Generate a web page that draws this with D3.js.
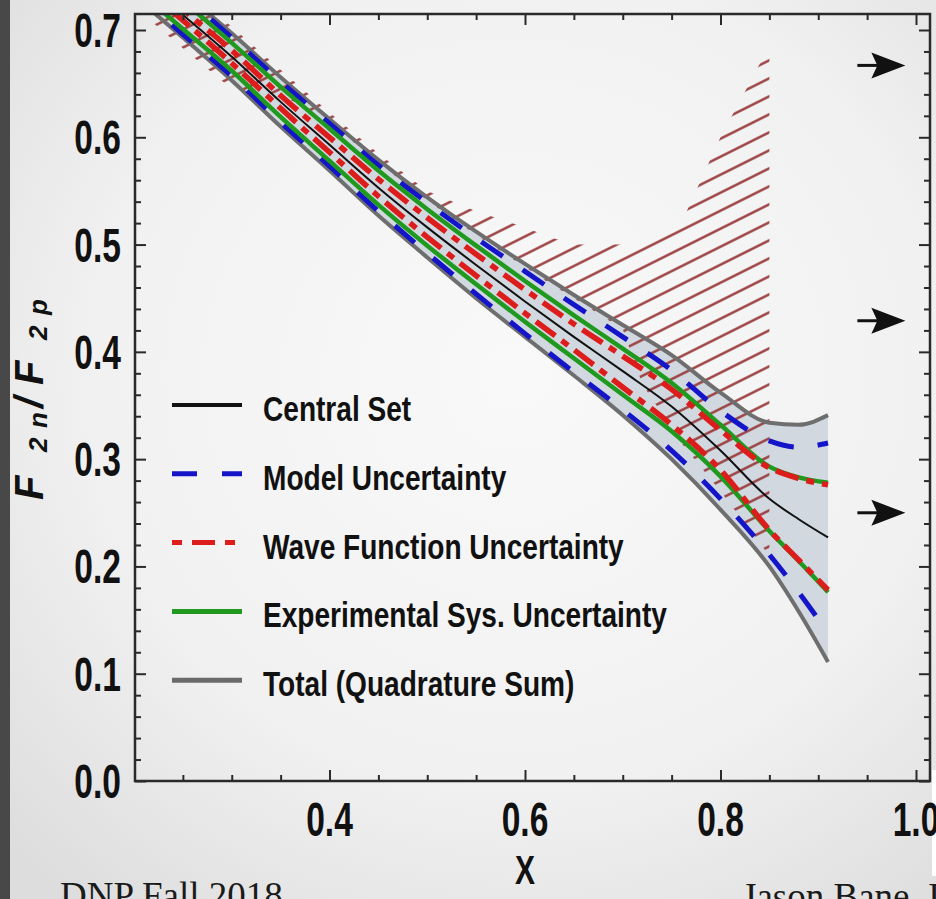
<!DOCTYPE html>
<html>
<head>
<meta charset="utf-8">
<script src="https://cdn.jsdelivr.net/npm/d3@7"></script>
<style>
  html, body { margin: 0; padding: 0; overflow: hidden; background: #e9e9e9; }
</style>
</head>
<body>
<svg id="chart" width="936" height="899"></svg>
<script>
// x grid shared by all the extraction curves
const xGrid    = [0.20, 0.25, 0.30, 0.35, 0.40, 0.45, 0.50, 0.55, 0.60, 0.65, 0.70, 0.75, 0.80, 0.85, 0.88, 0.91]
const central  = [0.752, 0.714, 0.675, 0.633, 0.593, 0.553, 0.516, 0.481, 0.447, 0.414, 0.382, 0.349, 0.308, 0.263, 0.244, 0.227]
const totalUp  = [0.772, 0.735, 0.697, 0.656, 0.617, 0.579, 0.544, 0.512, 0.482, 0.453, 0.425, 0.397, 0.362, 0.334, 0.332, 0.341]
const totalLo  = [0.732, 0.693, 0.653, 0.610, 0.569, 0.527, 0.488, 0.450, 0.414, 0.378, 0.341, 0.300, 0.253, 0.200, 0.158, 0.111]
const modelUp  = [0.769, 0.732, 0.693, 0.652, 0.613, 0.574, 0.539, 0.506, 0.475, 0.444, 0.414, 0.383, 0.345, 0.317, 0.311, 0.315]
const modelLo  = [0.735, 0.696, 0.657, 0.614, 0.573, 0.531, 0.492, 0.454, 0.417, 0.381, 0.346, 0.308, 0.263, 0.211, 0.176, 0.138]
const waveUp   = [0.757, 0.719, 0.681, 0.639, 0.600, 0.561, 0.525, 0.491, 0.458, 0.426, 0.396, 0.365, 0.327, 0.292, 0.282, 0.276]
const waveLo   = [0.747, 0.709, 0.669, 0.627, 0.586, 0.545, 0.507, 0.471, 0.436, 0.402, 0.367, 0.332, 0.290, 0.234, 0.206, 0.178]
const expUp    = [0.764, 0.727, 0.688, 0.647, 0.608, 0.569, 0.533, 0.499, 0.466, 0.434, 0.403, 0.371, 0.332, 0.293, 0.283, 0.278]
const expLo    = [0.740, 0.701, 0.662, 0.619, 0.578, 0.537, 0.499, 0.463, 0.428, 0.394, 0.360, 0.326, 0.284, 0.233, 0.205, 0.176]

// hatched region (other extraction)
const hatchX   = [0.20, 0.25, 0.30, 0.35, 0.40, 0.45, 0.50, 0.55, 0.60, 0.625, 0.65, 0.70, 0.72, 0.76, 0.80, 0.85]
const hatchTop = [0.780, 0.742, 0.703, 0.663, 0.623, 0.585, 0.550, 0.531, 0.516, 0.507, 0.500, 0.500, 0.501, 0.520, 0.600, 0.685]
const hatchBot = [0.722, 0.683, 0.645, 0.640, 0.614, 0.576, 0.541, 0.509, 0.479, 0.464, 0.450, 0.421, 0.370, 0.315, 0.270, 0.210]

// model predictions at x -> 1 (arrows)
const arrowVals = [0.667, 0.429, 0.25]

const xMajor = [0.4, 0.6, 0.8, 1.0]
const yMajor = [0.0, 0.1, 0.2, 0.3, 0.4, 0.5, 0.6, 0.7]

const legendItems = [
  { label: "Central Set", color: "#111", width: 4, dash: null },
  { label: "Model Uncertainty", color: "#1414c8", width: 5, dash: "25,25" },
  { label: "Wave Function Uncertainty", color: "#dd1c1c", width: 5, dash: "10,10,23,10" },
  { label: "Experimental Sys. Uncertainty", color: "#1f9a1f", width: 5, dash: null },
  { label: "Total (Quadrature Sum)", color: "#6a6a6a", width: 5, dash: null }
]

const W = 936, H = 899
const L = 135, R = 930, T = 14, B = 781

const svg = d3.select("#chart")
const defs = svg.append("defs")

const bg = defs.append("radialGradient").attr("id", "bg")
  .attr("cx", "55%").attr("cy", "42%").attr("r", "75%")
bg.append("stop").attr("offset", "0%").attr("stop-color", "#f9f9f9")
bg.append("stop").attr("offset", "60%").attr("stop-color", "#f1f1f1")
bg.append("stop").attr("offset", "100%").attr("stop-color", "#dddddd")

svg.append("rect").attr("width", W).attr("height", H).attr("fill", "url(#bg)")
svg.append("rect").attr("width", 10).attr("height", H).attr("fill", "#484848")
svg.append("rect").attr("x", 932).attr("y", 770).attr("width", 4).attr("height", 106).attr("fill", "#ffffff")

const x = d3.scaleLinear().domain([0.2, 1.0]).range([134, 916])
const y = d3.scaleLinear().domain([0, 0.7]).range([781, 30])

defs.append("clipPath").attr("id", "plotclip")
  .append("rect").attr("x", L).attr("y", T).attr("width", R - L).attr("height", B - T)

const hatch = defs.append("pattern").attr("id", "hatch")
  .attr("patternUnits", "userSpaceOnUse")
  .attr("width", 40).attr("height", 16.1)
  .attr("patternTransform", "translate(0,4) rotate(-26.57)")
hatch.append("line").attr("x1", 0).attr("x2", 40).attr("y1", 8).attr("y2", 8)
  .attr("stroke", "#983a3a").attr("stroke-width", 2.4)

const plot = svg.append("g").attr("clip-path", "url(#plotclip)")

// total band fill
const band = d3.area()
  .x((d, i) => x(xGrid[i]))
  .y0((d, i) => y(totalLo[i]))
  .y1(d => y(d))
  .curve(d3.curveMonotoneX)
plot.append("path").attr("d", band(totalUp)).attr("fill", "#d1d8df")

// hatched region
const hatchArea = d3.area()
  .x((d, i) => x(hatchX[i]))
  .y0((d, i) => y(hatchBot[i]))
  .y1(d => y(d))
plot.append("path").attr("d", hatchArea(hatchTop)).attr("fill", "url(#hatch)")

const line = d3.line()
  .x((d, i) => x(xGrid[i]))
  .y(d => y(d))
  .curve(d3.curveMonotoneX)

function curve(data, color, width, dash) {
  plot.append("path").attr("d", line(data))
    .attr("fill", "none")
    .attr("stroke", color)
    .attr("stroke-width", width)
    .attr("stroke-dasharray", dash)
}

curve(totalUp, "#6e6e6e", 4, null)
curve(totalLo, "#6e6e6e", 4, null)
curve(modelUp, "#1414c8", 5, "26,24")
curve(modelLo, "#1414c8", 5, "26,24")
curve(expUp, "#1f9a1f", 4.5, null)
curve(expLo, "#1f9a1f", 4.5, null)
curve(waveUp, "#dd1c1c", 5.5, "24,8,8,8")
curve(waveLo, "#dd1c1c", 5.5, "24,8,8,8")
curve(central, "#111", 2, null)

// frame and ticks
const axisCol = "#2a2a2a"
svg.append("rect").attr("x", L).attr("y", T).attr("width", R - L).attr("height", B - T)
  .attr("fill", "none").attr("stroke", axisCol).attr("stroke-width", 2.5)

const xMinor = d3.range(0.25, 1.001, 0.05).filter(v => !xMajor.some(m => Math.abs(m - v) < 1e-6))
const yMinor = d3.range(0.02, 0.70, 0.02).filter(v => !yMajor.some(m => Math.abs(m - v) < 1e-6))

function ticks(axisFn, scale, vals, len, tx, ty) {
  svg.append("g").attr("transform", `translate(${tx},${ty})`)
    .call(axisFn(scale).tickValues(vals).tickSizeInner(-len).tickSizeOuter(0).tickFormat(""))
    .call(g => g.select(".domain").remove())
    .call(g => g.selectAll("line").attr("stroke", axisCol).attr("stroke-width", 2))
}
ticks(d3.axisBottom, x, xMajor, 11, 0, B)
ticks(d3.axisBottom, x, xMinor, 6, 0, B)
ticks(d3.axisTop, x, xMajor, 11, 0, T)
ticks(d3.axisTop, x, xMinor, 6, 0, T)
ticks(d3.axisLeft, y, yMajor, 11, L, 0)
ticks(d3.axisLeft, y, yMinor, 6, L, 0)
ticks(d3.axisRight, y, yMajor, 11, R, 0)
ticks(d3.axisRight, y, yMinor, 6, R, 0)

// condensed bold text helper
function ctext(str, px, py, size, sx, anchor) {
  return svg.append("text")
    .attr("transform", `translate(${px},${py}) scale(${sx},1)`)
    .attr("text-anchor", anchor)
    .attr("font-family", "'Liberation Sans', Arial, sans-serif")
    .attr("font-weight", "bold")
    .attr("font-size", size)
    .attr("fill", "#111")
    .text(str)
}

yMajor.forEach(v => ctext(v.toFixed(1), 121, y(v) + 17, 48, 0.7, "end"))
xMajor.forEach(v => ctext(v.toFixed(1), x(v), 836, 48, 0.7, "middle"))
ctext("X", x(0.6), 884, 40, 0.75, "middle")

// y axis title, rotated pieces
const yTitle = [
  { t: "F", bx: 43, start: 500, size: 40 },
  { t: "2", bx: 47, start: 452, size: 26 },
  { t: "n", bx: 47, start: 428, size: 26 },
  { t: "/", bx: 43, start: 408, size: 40 },
  { t: "F", bx: 43, start: 385, size: 40 },
  { t: "2", bx: 47, start: 340, size: 26 },
  { t: "p", bx: 47, start: 315, size: 26 }
]
yTitle.forEach(p => {
  svg.append("text")
    .attr("transform", `translate(${p.bx},${p.start}) rotate(-90)`)
    .attr("font-family", "'Liberation Sans', Arial, sans-serif")
    .attr("font-weight", "bold")
    .attr("font-style", "italic")
    .attr("font-size", p.size)
    .attr("fill", "#111")
    .text(p.t)
})

// arrows at the right
arrowVals.forEach(v => {
  const yy = y(v), x0 = x(0.94)
  svg.append("line").attr("x1", x0).attr("x2", x0 + 22).attr("y1", yy).attr("y2", yy)
    .attr("stroke", "#111").attr("stroke-width", 3)
  svg.append("path")
    .attr("d", `M${x0 + 48},${yy} L${x0 + 14},${yy - 13} L${x0 + 20},${yy} L${x0 + 14},${yy + 13} Z`)
    .attr("fill", "#111")
})

// legend
const leg = svg.append("g")
legendItems.forEach((d, i) => {
  const ly = 405 + i * 68.8
  leg.append("line").attr("x1", 172).attr("x2", d.dash && d.dash.startsWith("10") ? 235 : 242)
    .attr("y1", ly).attr("y2", ly)
    .attr("stroke", d.color).attr("stroke-width", d.width)
    .attr("stroke-dasharray", d.dash)
  ctext(d.label, 263, ly + 16, 36, 0.78, "start")
})

// footer
svg.append("text").attr("x", 60).attr("y", 908)
  .attr("font-family", "'Liberation Serif', 'DejaVu Serif', serif")
  .attr("font-size", 37).attr("fill", "#1a1a1a").text("DNP Fall 2018")
svg.append("text").attr("x", 742).attr("y", 909)
  .attr("font-family", "'Liberation Serif', 'DejaVu Serif', serif")
  .attr("font-size", 37).attr("fill", "#1a1a1a").text("Jason Bane, I")
</script>
</body>
</html>
